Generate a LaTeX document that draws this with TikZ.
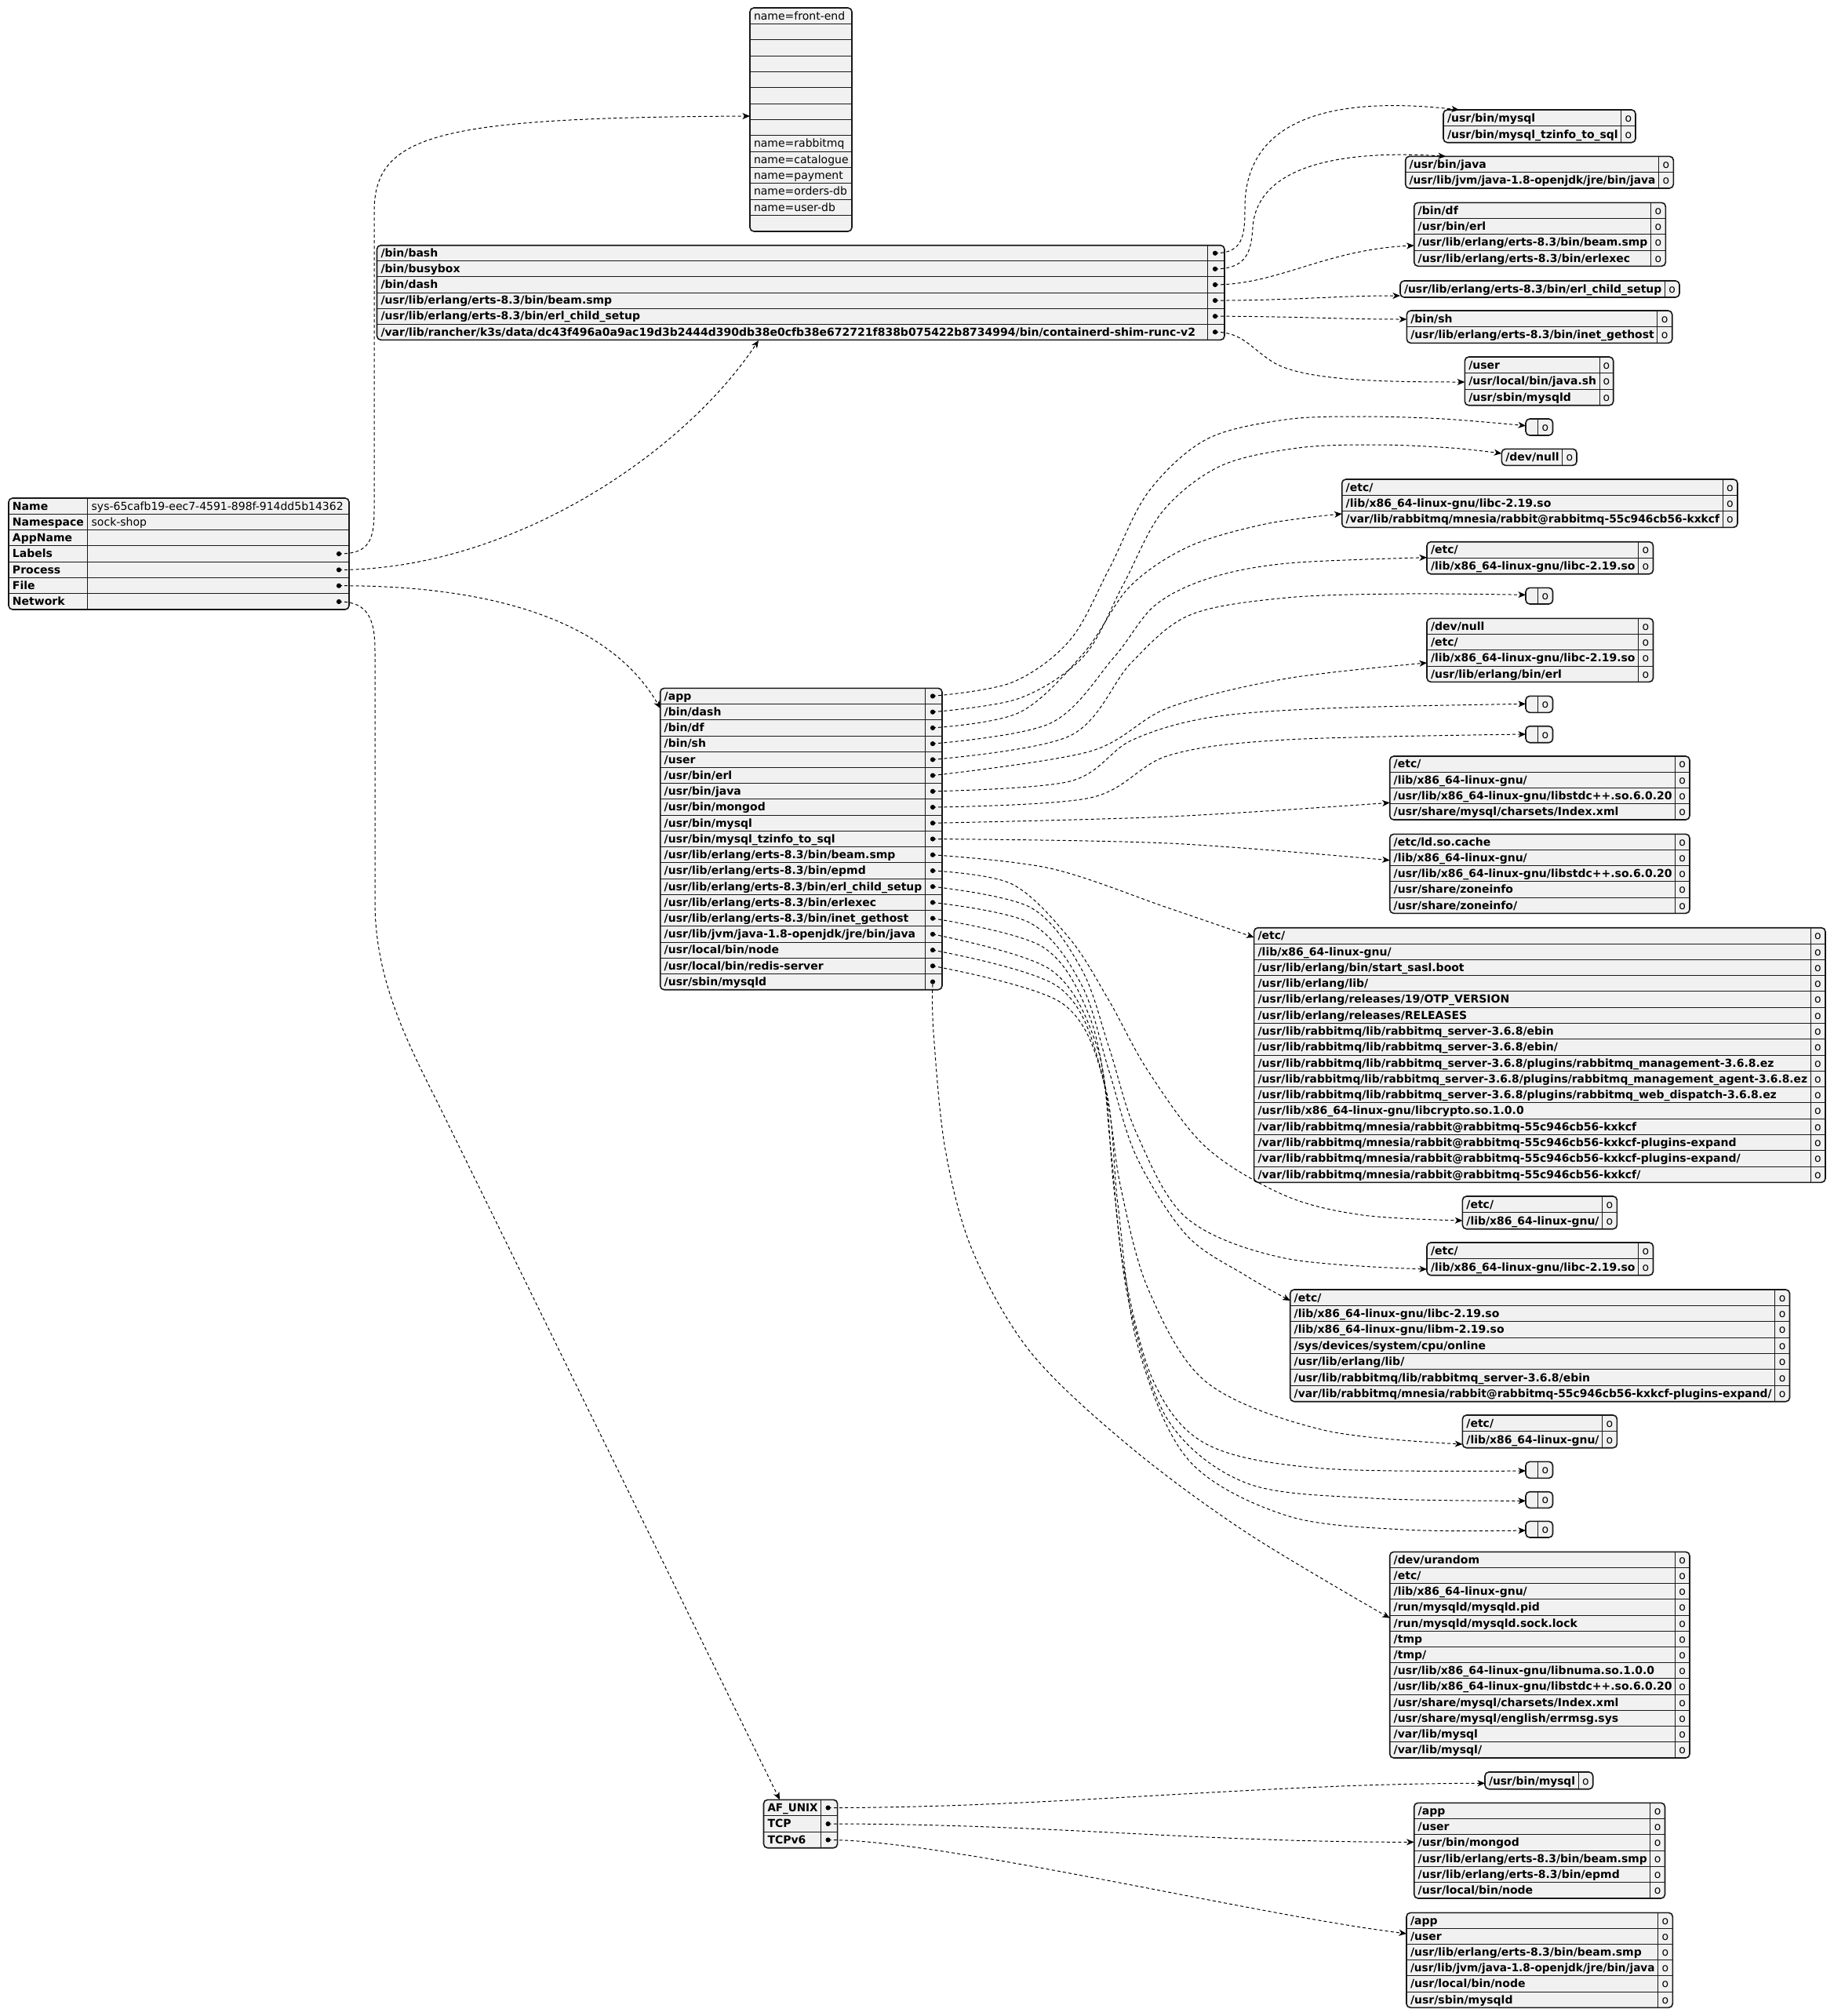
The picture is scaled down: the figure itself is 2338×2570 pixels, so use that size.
\documentclass[tikz,border=0pt]{standalone}
\usepackage{fontspec}
\setmainfont{DejaVu Sans}
\usetikzlibrary{arrows.meta}
\definecolor{boxfill}{HTML}{F1F1F1}
\definecolor{boxline}{HTML}{181818}
\newcommand\kf{\fontsize{7.0}{8.4}\selectfont\bfseries}
\newcommand\vf{\fontsize{7.0}{8.4}\selectfont}
\newsavebox\jbox
\newcommand\fitw[2]{\sbox\jbox{#2}\ifdim\wd\jbox>#1\relax\resizebox{#1}{\height}{\usebox\jbox}\else\usebox\jbox\fi}
\tikzset{
  tabfill/.style={fill=boxfill, draw=none, rounded corners=2.5pt, inner sep=0pt, outer sep=0pt, anchor=north west},
  tabborder/.style={draw=boxline, line width=0.8pt, rounded corners=2.5pt},
  rowline/.style={draw=boxline, line width=0.5pt},
  txt/.style={anchor=base west, inner sep=0pt, outer sep=0pt},
  otxt/.style={anchor=base, inner sep=0pt, outer sep=0pt, font=\vf},
  dotnode/.style={circle, fill=black, inner sep=0pt, outer sep=0pt, minimum size=3.1pt},
  conn/.style={draw=black, line width=0.5pt, dash pattern=on 2pt off 1.6pt, -{Stealth[length=4.8pt,width=4pt,inset=1.4pt]}},
  wave/.style={smooth, tension=0.55},
}
% name, xl, yt, xdiv, xr, yb, nrows, type (0 plain,1 o,2 dot,3 none), keys
\newcommand\jtab[9]{%
  \pgfmathsetmacro\jh{(#6-#3)/#7}%
  \ifnum#8=0 \pgfmathsetmacro\jw{(#5-#2-9)*0.5}\else\pgfmathsetmacro\jw{(#4-#2-9)*0.5}\fi
  \node[tabfill, minimum width={(#5-#2)*0.5pt}, minimum height={(#6-#3)*0.5pt}] (#1) at (#2,#3) {};%
  \ifnum#7>1
    \foreach \ii in {2,...,#7}{\draw[rowline] (#2,{#3+(\ii-1)*\jh}) -- (#5,{#3+(\ii-1)*\jh});}%
  \fi
  \ifnum#8>0 \draw[rowline] (#4,#3) -- (#4,#6);\fi
  \draw[tabborder] (#1.north west) rectangle (#1.south east);%
  \foreach \k [count=\i] in {#9}{%
    \ifnum#8=0
      \node[txt, font=\vf] (#1-k\i) at ({#2+5},{#3+(\i-0.26)*\jh}) {\fitw{\jw pt}{\k}};%
    \else
      \node[txt, font=\kf] (#1-k\i) at ({#2+5},{#3+(\i-0.26)*\jh}) {\fitw{\jw pt}{\k}};%
    \fi
    \ifnum#8=1 \node[otxt] (#1-\i) at ({(#4+#5)/2},{#3+(\i-0.26)*\jh}) {o};\fi
    \ifnum#8=2 \node[dotnode] (#1-\i) at ({#5-12},{#3+(\i-0.5)*\jh}) {};\fi
  }%
}
\begin{document}
\begin{tikzpicture}[x=0.5pt,y=-0.5pt]
\useasboundingbox[fill=white] (0,0) rectangle (2338,2570);

% ---------- main box
\jtab{M}{11}{635}{111.7}{445}{777}{7}{3}{Name,Namespace,AppName,Labels,Process,File,Network}
\node[txt,font=\vf] (M-v1) at (116.7,650) {sys-65cafb19-eec7-4591-898f-914dd5b14362};
\node[txt,font=\vf] (M-v2) at (116.7,670.3) {sock-shop};
\node[dotnode] (M-4) at (432,706) {};
\node[dotnode] (M-5) at (432,726.4) {};
\node[dotnode] (M-6) at (432,746.7) {};
\node[dotnode] (M-7) at (432,767) {};

% ---------- labels
\jtab{L}{956}{10}{0}{1086}{295}{14}{0}{name=front-end,\relax,\relax,\relax,\relax,\relax,\relax,\relax,name=rabbitmq,name=catalogue,name=payment,name=orders-db,name=user-db,\relax}

% ---------- process
\jtab{P}{480.5}{312.7}{1539.3}{1561}{433.3}{6}{2}{/bin/bash,/bin/busybox,/bin/dash,/usr/lib/erlang/erts-8.3/bin/beam.smp,/usr/lib/erlang/erts-8.3/bin/erl\_child\_setup,/var/lib/rancher/k3s/data/dc43f496a0a9ac19d3b2444d390db38e0cfb38e672721f838b075422b8734994/bin/containerd-shim-runc-v2}

\jtab{P1}{1840}{140}{2066.7}{2085}{181.7}{2}{1}{/usr/bin/mysql,/usr/bin/mysql\_tzinfo\_to\_sql}
\jtab{P2}{1791.7}{199.3}{2114.3}{2133.3}{240}{2}{1}{/usr/bin/java,/usr/lib/jvm/java-1.8-openjdk/jre/bin/java}
\jtab{P3}{1802.7}{258.3}{2104.3}{2123.3}{339.3}{4}{1}{/bin/df,/usr/bin/erl,/usr/lib/erlang/erts-8.3/bin/beam.smp,/usr/lib/erlang/erts-8.3/bin/erlexec}
\jtab{P4}{1785}{358}{2122.3}{2141}{379}{1}{1}{/usr/lib/erlang/erts-8.3/bin/erl\_child\_setup}
\jtab{P5}{1793.3}{396}{2112.7}{2131.7}{437.3}{2}{1}{/bin/sh,/usr/lib/erlang/erts-8.3/bin/inet\_gethost}
\jtab{P6}{1867.3}{455}{2039}{2056.7}{516.7}{3}{1}{/user,/usr/local/bin/java.sh,/usr/sbin/mysqld}

% ---------- file
\jtab{F}{841.7}{877.3}{1179.3}{1201}{1261.7}{19}{2}{/app,/bin/dash,/bin/df,/bin/sh,/user,/usr/bin/erl,/usr/bin/java,/usr/bin/mongod,/usr/bin/mysql,/usr/bin/mysql\_tzinfo\_to\_sql,/usr/lib/erlang/erts-8.3/bin/beam.smp,/usr/lib/erlang/erts-8.3/bin/epmd,/usr/lib/erlang/erts-8.3/bin/erl\_child\_setup,/usr/lib/erlang/erts-8.3/bin/erlexec,/usr/lib/erlang/erts-8.3/bin/inet\_gethost,/usr/lib/jvm/java-1.8-openjdk/jre/bin/java,/usr/local/bin/node,/usr/local/bin/redis-server,/usr/sbin/mysqld}

\jtab{T1}{1945}{534}{1960.5}{1979.5}{555}{1}{1}{\relax}
\jtab{T2}{1914.3}{572.3}{1991.7}{2010}{593.3}{1}{1}{/dev/null}
\jtab{T3}{1710.7}{611}{2196}{2215}{672.3}{3}{1}{/etc/,/lib/x86\_64-linux-gnu/libc-2.19.so,/var/lib/rabbitmq/mnesia/rabbit@rabbitmq-55c946cb56-kxkcf}
\jtab{T4}{1819}{690.7}{2088.5}{2107.5}{731.7}{2}{1}{/etc/,/lib/x86\_64-linux-gnu/libc-2.19.so}
\jtab{T5}{1945}{749.3}{1960.5}{1979.5}{770}{1}{1}{\relax}
\jtab{T6}{1819}{788.3}{2088.5}{2107.5}{869.3}{4}{1}{/dev/null,/etc/,/lib/x86\_64-linux-gnu/libc-2.19.so,/usr/lib/erlang/bin/erl}
\jtab{T7}{1945}{887.3}{1960.5}{1979.5}{908.3}{1}{1}{\relax}
\jtab{T8}{1945}{925.7}{1960.5}{1979.5}{946.7}{1}{1}{\relax}
\jtab{T9}{1771.7}{964}{2135.5}{2154}{1045}{4}{1}{/etc/,/lib/x86\_64-linux-gnu/,/usr/lib/x86\_64-linux-gnu/libstdc++.so.6.0.20,/usr/share/mysql/charsets/Index.xml}
\jtab{T10}{1771.7}{1063.3}{2135.5}{2154}{1164.3}{5}{1}{/etc/ld.so.cache,/lib/x86\_64-linux-gnu/,/usr/lib/x86\_64-linux-gnu/libstdc++.so.6.0.20,/usr/share/zoneinfo,/usr/share/zoneinfo/}
\jtab{T11}{1598.6}{1182.7}{2308}{2327}{1507.3}{16}{1}{/etc/,/lib/x86\_64-linux-gnu/,/usr/lib/erlang/bin/start\_sasl.boot,/usr/lib/erlang/lib/,/usr/lib/erlang/releases/19/OTP\_VERSION,/usr/lib/erlang/releases/RELEASES,/usr/lib/rabbitmq/lib/rabbitmq\_server-3.6.8/ebin,/usr/lib/rabbitmq/lib/rabbitmq\_server-3.6.8/ebin/,/usr/lib/rabbitmq/lib/rabbitmq\_server-3.6.8/plugins/rabbitmq\_management-3.6.8.ez,/usr/lib/rabbitmq/lib/rabbitmq\_server-3.6.8/plugins/rabbitmq\_management\_agent-3.6.8.ez,/usr/lib/rabbitmq/lib/rabbitmq\_server-3.6.8/plugins/rabbitmq\_web\_dispatch-3.6.8.ez,/usr/lib/x86\_64-linux-gnu/libcrypto.so.1.0.0,/var/lib/rabbitmq/mnesia/rabbit@rabbitmq-55c946cb56-kxkcf,/var/lib/rabbitmq/mnesia/rabbit@rabbitmq-55c946cb56-kxkcf-plugins-expand,/var/lib/rabbitmq/mnesia/rabbit@rabbitmq-55c946cb56-kxkcf-plugins-expand/,/var/lib/rabbitmq/mnesia/rabbit@rabbitmq-55c946cb56-kxkcf/}
\jtab{T12}{1864.4}{1525}{2042.5}{2061.4}{1566.7}{2}{1}{/etc/,/lib/x86\_64-linux-gnu/}
\jtab{T13}{1819}{1584}{2088.5}{2107.5}{1625.7}{2}{1}{/etc/,/lib/x86\_64-linux-gnu/libc-2.19.so}
\jtab{T14}{1644.7}{1644}{2262.6}{2281.5}{1786.7}{7}{1}{/etc/,/lib/x86\_64-linux-gnu/libc-2.19.so,/lib/x86\_64-linux-gnu/libm-2.19.so,/sys/devices/system/cpu/online,/usr/lib/erlang/lib/,/usr/lib/rabbitmq/lib/rabbitmq\_server-3.6.8/ebin,/var/lib/rabbitmq/mnesia/rabbit@rabbitmq-55c946cb56-kxkcf-plugins-expand/}
\jtab{T15}{1864.4}{1804}{2042.5}{2061.4}{1845.7}{2}{1}{/etc/,/lib/x86\_64-linux-gnu/}
\jtab{T16}{1945}{1863.3}{1960.5}{1979.5}{1884.3}{1}{1}{\relax}
\jtab{T17}{1945}{1901.7}{1960.5}{1979.5}{1922.3}{1}{1}{\relax}
\jtab{T18}{1945}{1939.3}{1960.5}{1979.5}{1960}{1}{1}{\relax}
\jtab{T19}{1771.7}{1978.3}{2135.5}{2154}{2241}{13}{1}{/dev/urandom,/etc/,/lib/x86\_64-linux-gnu/,/run/mysqld/mysqld.pid,/run/mysqld/mysqld.sock.lock,/tmp,/tmp/,/usr/lib/x86\_64-linux-gnu/libnuma.so.1.0.0,/usr/lib/x86\_64-linux-gnu/libstdc++.so.6.0.20,/usr/share/mysql/charsets/Index.xml,/usr/share/mysql/english/errmsg.sys,/var/lib/mysql,/var/lib/mysql/}

% ---------- network
\jtab{N}{973.5}{2294.3}{1046.5}{1067.6}{2355.7}{3}{2}{AF\_UNIX,TCP,TCPv6}
\jtab{N1}{1893}{2259}{2012}{2030.7}{2280.7}{1}{1}{/usr/bin/mysql}
\jtab{N2}{1802.7}{2298.3}{2103.7}{2122.5}{2420}{6}{1}{/app,/user,/usr/bin/mongod,/usr/lib/erlang/erts-8.3/bin/beam.smp,/usr/lib/erlang/erts-8.3/bin/epmd,/usr/local/bin/node}
\jtab{N3}{1793}{2438.3}{2113.5}{2132.3}{2559.3}{6}{1}{/app,/user,/usr/lib/erlang/erts-8.3/bin/beam.smp,/usr/lib/jvm/java-1.8-openjdk/jre/bin/java,/usr/local/bin/node,/usr/sbin/mysqld}

% ---------- arrow end points
\coordinate (Lin) at (956,148);
\coordinate (Pin) at (967,434);
\coordinate (Fin) at (841.7,903);
\coordinate (Nin) at (994,2294.3);
\coordinate (p1in) at (1860,140);
\coordinate (p2in) at (1843,199.3);
\coordinate (p3in) at (1802.7,313);
\coordinate (p4in) at (1785,377);
\coordinate (p5in) at (1793.3,407);
\coordinate (p6in) at (1867.3,487);
\coordinate (t1in) at (1945,542.7);
\coordinate (t2in) at (1914.3,578);
\coordinate (t3in) at (1710.7,655);
\coordinate (t4in) at (1819,710.7);
\coordinate (t5in) at (1945,758.3);
\coordinate (t6in) at (1819,845);
\coordinate (t7in) at (1945,897.3);
\coordinate (t8in) at (1945,936);
\coordinate (t9in) at (1771.7,1023.3);
\coordinate (t10in) at (1771.7,1096.7);
\coordinate (t11in) at (1598.6,1195);
\coordinate (t12in) at (1864.4,1556);
\coordinate (t13in) at (1819,1618);
\coordinate (t14in) at (1644.7,1658);
\coordinate (t15in) at (1864.4,1841);
\coordinate (t16in) at (1945,1875);
\coordinate (t17in) at (1945,1913.3);
\coordinate (t18in) at (1945,1951);
\coordinate (t19in) at (1771.7,2062.7);
\coordinate (n1in) at (1893,2273.3);
\coordinate (n2in) at (1802.7,2348.3);
\coordinate (n3in) at (1793,2465);

% ---------- main connectors
\draw[conn] (M-4.center) .. controls (470,706) and (477,690) .. (477,650) -- (477,270) .. controls (477,170) and (560,150) .. (Lin);
\draw[conn] (M-5.center) .. controls (650,726) and (870,580) .. (Pin);
\draw[conn] (M-6.center) .. controls (700,746) and (800,830) .. (Fin);
\draw[conn] (M-7.center) .. controls (470,767) and (478,790) .. (478,830) -- (478,1150) .. controls (478,1250) and (520,1330) .. (560,1410) -- (Nin);

% ---------- process connectors
\draw[conn] (P-1.center) .. controls (1585,322.7) and (1587,300) .. (1587,265) .. controls (1587,150) and (1700,122) .. (p1in);
\draw[conn] (P-2.center) .. controls (1590,342.7) and (1595,320) .. (1597,290) .. controls (1602,215) and (1700,190) .. (p2in);
\draw[conn] (P-3.center) .. controls (1630,362.7) and (1690,318) .. (p3in);
\draw[conn] (P-4.center) .. controls (1650,383) and (1700,377) .. (p4in);
\draw[conn] (P-5.center) .. controls (1650,403.3) and (1710,407) .. (p5in);
\draw[conn] (P-6.center) .. controls (1585,423.3) and (1595,445) .. (1625,463) .. controls (1665,485) and (1760,487) .. (p6in);

% ---------- file connectors
\draw[conn] plot[wave] coordinates {(F-1.center) (1290,870) (1364,816) (1414,725) (1464,627) (1538,560) (1638,535) (1737,531) (1840,534) (t1in)};
\draw[conn] plot[wave] coordinates {(F-2.center) (1300,890) (1382,836) (1432,745) (1482,652) (1556,594) (1655,571) (1755,567) (1850,571) (t2in)};
\draw[conn] plot[wave] coordinates {(F-3.center) (1300,908) (1382,832) (1440,748) (1515,697) (1613,668) (t3in)};
\draw[conn] plot[wave] coordinates {(F-4.center) (1339,922) (1420,838) (1472,772) (1542,737) (1642,718) (t4in)};
\draw[conn] plot[wave] coordinates {(F-5.center) (1364,938) (1442,845) (1517,784) (1640,762) (1790,757) (t5in)};
\draw[conn] plot[wave] coordinates {(F-6.center) (1389,958) (1490,902) (1640,865) (t6in)};
\draw[conn] plot[wave] coordinates {(F-7.center) (1364,996) (1442,944) (1540,915) (1690,903) (t7in)};
\draw[conn] plot[wave] coordinates {(F-8.center) (1390,1017) (1490,963) (1640,943) (t8in)};
\draw[conn] plot[wave] coordinates {(F-9.center) (1490,1041) (t9in)};
\draw[conn] plot[wave] coordinates {(F-10.center) (1490,1075) (t10in)};
\draw[conn] plot[wave] coordinates {(F-11.center) (1339,1107) (1488,1157) (t11in)};
\draw[conn] plot[wave] coordinates {(F-12.center) (1290,1127) (1364,1197) (1414,1276) (1464,1366) (1538,1463) (1638,1524) (1737,1549) (t12in)};
\draw[conn] plot[wave] coordinates {(F-13.center) (1314,1157) (1379,1236) (1414,1336) (1449,1445) (1513,1553) (1638,1604) (t13in)};
\draw[conn] plot[wave] coordinates {(F-14.center) (1314,1177) (1379,1256) (1414,1366) (1449,1475) (1513,1575) (1588,1626) (t14in)};
\draw[conn] plot[wave] coordinates {(F-15.center) (1329,1207) (1389,1296) (1414,1416) (1429,1515) (1464,1644) (1538,1762) (1687,1823) (t15in)};
\draw[conn] plot[wave] coordinates {(F-16.center) (1339,1236) (1399,1336) (1416,1465) (1432,1614) (1471,1762) (1540,1842) (1687,1872) (t16in)};
\draw[conn] plot[wave] coordinates {(F-17.center) (1349,1258) (1404,1366) (1420,1515) (1440,1664) (1490,1812) (1590,1891) (1750,1910) (t17in)};
\draw[conn] plot[wave] coordinates {(F-18.center) (1354,1279) (1409,1386) (1425,1535) (1450,1714) (1515,1861) (1640,1932) (1790,1950) (t18in)};
\draw[conn] plot[wave] coordinates {(F-19.south) (1190,1316) (1205,1465) (1240,1595) (1314,1724) (1439,1843) (1588,1953) (t19in)};

% ---------- network connectors
\draw[conn] (N-1.center) .. controls +(280,0) and +(-280,0) .. (n1in);
\draw[conn] (N-2.center) .. controls +(280,0) and +(-280,0) .. (n2in);
\draw[conn] (N-3.center) .. controls +(150,0) and +(-200,-25) .. (n3in);
\end{tikzpicture}
\end{document}
